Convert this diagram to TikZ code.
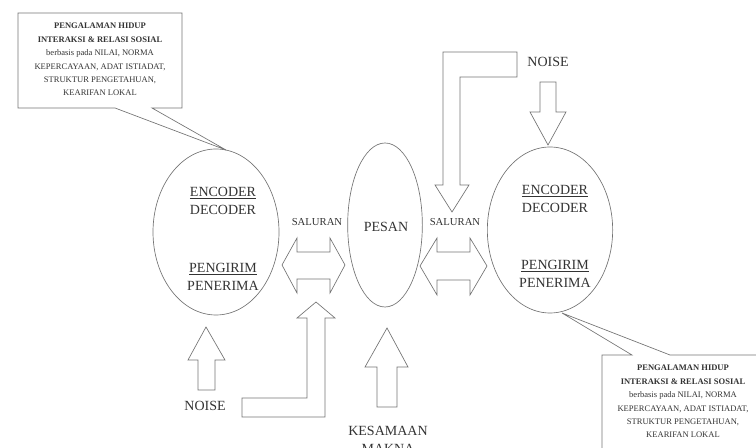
\documentclass[tikz,border=0pt]{standalone}
\usepackage{fontspec}
\setmainfont{Liberation Serif}
\usetikzlibrary{shapes}

\begin{document}
\begin{tikzpicture}[x=0.75pt, y=-0.75pt]
\tikzstyle{vertexe}=[ellipse, draw=black!55, line width=0.5pt, inner sep=0pt]
\tikzstyle{lbltext}=[text=black!80, font=\fontsize{10.5}{13.5}\selectfont, inner sep=1pt, align=center]
\tikzstyle{smalltext}=[text=black!80, font=\fontsize{8}{10}\selectfont, inner sep=1pt]
\tikzstyle{calltext}=[text=black!80, font=\fontsize{6.4}{10.1}\selectfont, align=center, inner sep=0pt]
\tikzstyle{blockstyle}=[draw=black!55, line width=0.5pt, line join=miter]

\useasboundingbox (0,0) rectangle (756,448);
\clip (0,0) rectangle (756,448);

\node[vertexe, minimum width=94.5pt, minimum height=124.5pt] (E1) at (216,232) {};
\node[lbltext] (E1a) at (223,201) {\underline{ENCODER}\\DECODER};
\node[lbltext] (E1b) at (223,277) {\underline{PENGIRIM}\\PENERIMA};
\node[vertexe, minimum width=56pt, minimum height=123pt] (E2) at (385,225) {};
\node[lbltext] (E2a) at (386,227) {PESAN};
\node[vertexe, minimum width=94pt, minimum height=124.5pt] (E3) at (550,230) {};
\node[lbltext] (E3a) at (555,199) {\underline{ENCODER}\\DECODER};
\node[lbltext] (E3b) at (555,274) {\underline{PENGIRIM}\\PENERIMA};

\node[smalltext] (S1) at (317,222) {SALURAN};
\node[smalltext] (S2) at (455,222) {SALURAN};
\node[lbltext] (N1) at (548,62) {NOISE};
\node[lbltext] (N2) at (205,406) {NOISE};
\node[lbltext] (K1) at (388,440) {KESAMAAN\\MAKNA};

\coordinate (C1) at (226,150);
\draw[blockstyle] (18,13) -- (182,13) -- (182,108) -- (152,108) -- (C1) -- (115,108) -- (18,108) -- cycle;
\node[calltext] (C1t) at (100,59.5) {\textbf{PENGALAMAN HIDUP}\\\textbf{INTERAKSI \& RELASI SOSIAL}\\berbasis pada NILAI, NORMA\\KEPERCAYAAN, ADAT ISTIADAT,\\STRUKTUR PENGETAHUAN,\\KEARIFAN LOKAL};

\coordinate (C2) at (562,313);
\draw[blockstyle] (602,452) -- (602,355) -- (632,355) -- (C2) -- (670,355) -- (764,355) -- (764,452);
\node[calltext] (C2t) at (683,401.5) {\textbf{PENGALAMAN HIDUP}\\\textbf{INTERAKSI \& RELASI SOSIAL}\\berbasis pada NILAI, NORMA\\KEPERCAYAAN, ADAT ISTIADAT,\\STRUKTUR PENGETAHUAN,\\KEARIFAN LOKAL};

\draw[blockstyle] (282,265) -- (297,238) -- (297,252) -- (330,252) -- (330,238) -- (345,265)
  -- (330,293) -- (330,279) -- (297,279) -- (297,293) -- cycle;
\draw[blockstyle] (420,266) -- (437,238) -- (437,252) -- (470,252) -- (470,238) -- (487,266)
  -- (470,295) -- (470,280) -- (437,280) -- (437,295) -- cycle;
\draw[blockstyle] (540,82) -- (556,82) -- (556,112) -- (566,112) -- (548,145) -- (530,112) -- (540,112) -- cycle;
\draw[blockstyle] (517,52) -- (443,52) -- (443,185) -- (435,185) -- (452,212) -- (469,185) -- (460,185)
  -- (460,77) -- (517,77) -- cycle;
\draw[blockstyle] (198,390) -- (198,360) -- (188,360) -- (206,327) -- (225,360) -- (215,360) -- (215,390) -- cycle;
\draw[blockstyle] (242,398) -- (307,398) -- (307,318) -- (297,318) -- (316,302) -- (335,318) -- (325,318)
  -- (325,417) -- (242,417) -- cycle;
\draw[blockstyle] (377,407) -- (377,367) -- (365,367) -- (387,328) -- (408,367) -- (397,367) -- (397,407) -- cycle;
\end{tikzpicture}
\end{document}
